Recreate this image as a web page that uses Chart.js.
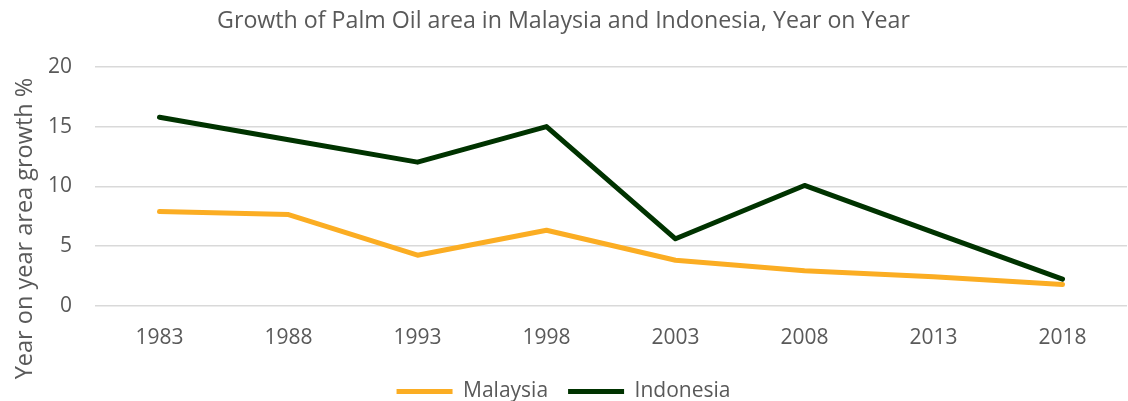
<!DOCTYPE html>
<html>
<head>
<meta charset="utf-8">
<script src="https://cdn.jsdelivr.net/npm/chart.js@4.4.1/dist/chart.umd.min.js"></script>
<style>
html,body{margin:0;padding:0;background:#fff;}
#wrap{width:1128px;height:401px;position:relative;}
</style>
</head>
<body>
<div id="wrap"><canvas id="c" width="1128" height="401"></canvas></div>
<script>
const years = ["1983","1988","1993","1998","2003","2008","2013","2018"];
const malaysia = [7.9, 7.65, 4.25, 6.33, 3.83, 2.95, 2.45, 1.8];
const indonesia = [15.78, 13.9, 12.03, 15.0, 5.62, 10.08, 6.15, 2.25];
const yTicks = [0, 5, 10, 15, 20];
const yTitle = 'Year on year area growth %';

const FONT = "'Open Sans', sans-serif";
const GREY = '#595959';

// Axis title drawn as real canvas text, positioned like the reference
const yTitlePlugin = {
  id: 'yTitle',
  afterDraw(chart) {
    const ctx = chart.ctx;
    ctx.save();
    ctx.translate(32, 228.5);
    ctx.rotate(-Math.PI / 2);
    ctx.font = "23.5px " + FONT;
    ctx.fillStyle = GREY;
    ctx.textAlign = 'center';
    ctx.textBaseline = 'alphabetic';
    ctx.fillText(yTitle, 0, 0);
    ctx.restore();
  }
};

// Fix legend box height so the legend sits where it does in the reference
const legendHeightPlugin = {
  id: 'legendHeight',
  beforeLayout(chart) {
    const lg = chart.legend;
    if (lg && !lg._patched) {
      const orig = lg.fit.bind(lg);
      lg.fit = function () { orig(); this.height = 40; };
      lg._patched = true;
    }
  }
};

new Chart(document.getElementById('c'), {
  type: 'line',
  data: {
    labels: years,
    datasets: [
      {label: 'Malaysia', data: malaysia, borderColor: '#FBAD23', backgroundColor: '#FBAD23',
       borderWidth: 5, pointRadius: 0, borderCapStyle: 'round', borderJoinStyle: 'round', tension: 0},
      {label: 'Indonesia', data: indonesia, borderColor: '#003300', backgroundColor: '#003300',
       borderWidth: 5, pointRadius: 0, borderCapStyle: 'round', borderJoinStyle: 'round', tension: 0}
    ]
  },
  plugins: [yTitlePlugin, legendHeightPlugin],
  options: {
    responsive: false,
    animation: false,
    devicePixelRatio: 1,
    layout: {padding: {left: 0, right: 1, top: 0, bottom: 0}},
    plugins: {
      title: {display: true, text: 'Growth of Palm Oil area in Malaysia and Indonesia, Year on Year',
        color: GREY, font: {family: FONT, size: 23.2, weight: 'normal'}, padding: {top: 7, bottom: 32}},
      legend: {position: 'bottom',
        labels: {color: GREY, font: {family: FONT, size: 21}, boxWidth: 56, boxHeight: 5, padding: 20,
          generateLabels: (chart) => chart.data.datasets.map((d, i) => ({
            text: d.label, fillStyle: d.borderColor, strokeStyle: d.borderColor, lineWidth: 0,
            fontColor: GREY, datasetIndex: i, hidden: false
          }))
        }
      },
      tooltip: {enabled: false}
    },
    scales: {
      x: {
        offset: true,
        grid: {display: false, drawTicks: false},
        border: {display: false},
        ticks: {color: GREY, font: {family: FONT, size: 21}, padding: 19, maxRotation: 0},
        afterFit: (s) => { s.height = 55; }
      },
      y: {
        min: 0, max: 20,
        afterBuildTicks: (s) => { s.ticks = yTicks.map(v => ({value: v})); },
        grid: {color: '#d9d9d9', lineWidth: 1.5, drawTicks: false},
        border: {display: false},
        ticks: {color: GREY, font: {family: FONT, size: 21}, padding: 23},
        afterFit: (s) => { s.width = 95; }
      }
    }
  }
});
</script>
</body>
</html>
